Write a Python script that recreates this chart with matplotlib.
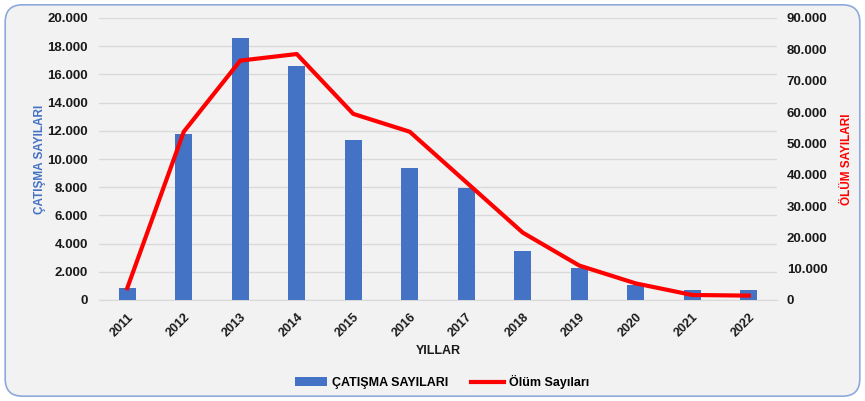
import matplotlib.pyplot as plt
from matplotlib.patches import FancyBboxPatch
from matplotlib.ticker import FuncFormatter

plt.rcParams['font.family'] = ['Liberation Sans', 'DejaVu Sans']

years = ["2011", "2012", "2013", "2014", "2015", "2016",
         "2017", "2018", "2019", "2020", "2021", "2022"]
catisma = [870, 11750, 18560, 16620, 11330, 9380, 7960, 3475, 2290, 1060, 710, 690]
olum = [3800, 53700, 76400, 78500, 59400, 53700, 37600, 21500, 11000, 5300, 1600, 1400]

blue = "#4472C4"
red = "#FF0000"


def dotted(v, pos):
    return "{:,.0f}".format(v).replace(",", ".")


fig = plt.figure(figsize=(8.65, 4.01), dpi=100)
fig.patch.set_facecolor("white")
bg = FancyBboxPatch((0.006, 0.012), 0.988, 0.976, boxstyle="round,pad=0,rounding_size=0.02",
                    transform=fig.transFigure, facecolor="#F2F2F2",
                    edgecolor="#8EA9DB", linewidth=1.2, mutation_aspect=865 / 401,
                    zorder=-10)
fig.patches.append(bg)

ax = fig.add_axes([99 / 865, 1 - 300 / 401, (777 - 99) / 865, (300 - 18) / 401])
ax.set_facecolor("none")
x = list(range(len(years)))
ax.bar(x, catisma, width=0.3, color=blue, zorder=3, label="ÇATIŞMA SAYILARI")
ax.set_xlim(-0.5, len(years) - 0.5)
ax.set_ylim(0, 20000)
ax.set_yticks(range(0, 20001, 2000))
ax.yaxis.set_major_formatter(FuncFormatter(dotted))
ax.grid(axis="y", color="#D9D9D9", linewidth=1, zorder=0)
for s in ["top", "right", "left"]:
    ax.spines[s].set_visible(False)
ax.spines["bottom"].set_color("#D9D9D9")
ax.tick_params(axis="both", length=0)
ax.set_xticks(x)
ax.set_xticklabels(years, rotation=45, fontsize=9, fontweight="bold", color="#1a1a1a",
                   ha="right", rotation_mode="anchor")
ax.tick_params(axis="x", pad=8)
for lbl in ax.get_yticklabels():
    lbl.set_fontsize(9.5)
    lbl.set_fontweight("bold")
    lbl.set_color("#1a1a1a")
ax.tick_params(axis="y", pad=8)
ax.set_xlabel("YILLAR", fontsize=9, fontweight="bold", color="#1a1a1a", labelpad=4)
ax.set_ylabel("ÇATIŞMA SAYILARI", fontsize=8.5, color=blue, fontweight="bold", labelpad=1)

ax2 = ax.twinx()
ax2.plot(x, olum, color=red, linewidth=3, zorder=4, label="Ölüm Sayıları")
ax2.set_ylim(0, 90000)
ax2.set_yticks(range(0, 90001, 10000))
ax2.yaxis.set_major_formatter(FuncFormatter(dotted))
for s in ["top", "right", "left", "bottom"]:
    ax2.spines[s].set_visible(False)
ax2.tick_params(axis="y", length=0, pad=7)
for lbl in ax2.get_yticklabels():
    lbl.set_fontsize(9.5)
    lbl.set_fontweight("bold")
    lbl.set_color("#1a1a1a")
ax2.set_ylabel("ÖLÜM SAYILARI", fontsize=8.5, color=red, fontweight="bold", labelpad=10)

h1, l1 = ax.get_legend_handles_labels()
h2, l2 = ax2.get_legend_handles_labels()
fig.legend(h1 + h2, l1 + l2, loc="center", bbox_to_anchor=(442 / 865, 1 - 382 / 401),
           ncol=2, frameon=False, handlelength=2.6, columnspacing=1.8,
           handletextpad=0.4, prop={"weight": "bold", "size": 9})

fig.savefig("out.png", dpi=100, facecolor=fig.get_facecolor())
